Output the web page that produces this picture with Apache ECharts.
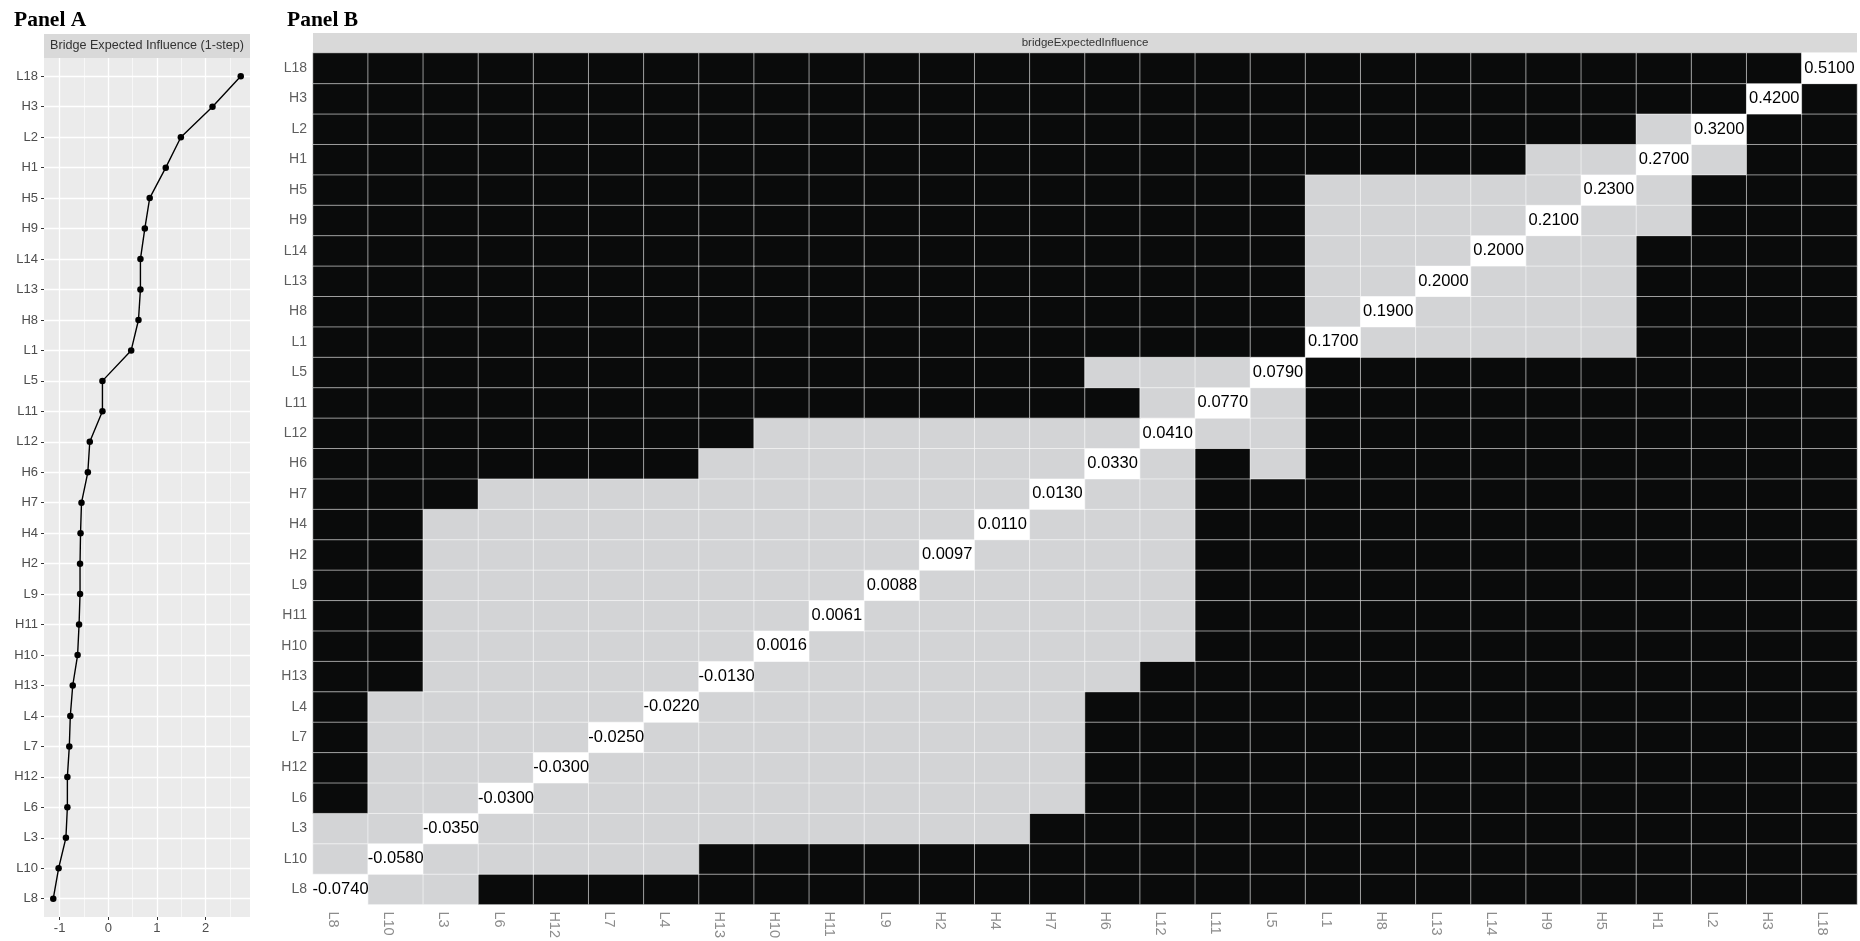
<!DOCTYPE html>
<html>
<head>
<meta charset="utf-8">
<title>Bridge Expected Influence</title>
<script src="https://cdn.jsdelivr.net/npm/echarts@6/dist/echarts.min.js"></script>
<style>
  html, body { margin: 0; padding: 0; background: #fff; }
  #main { width: 1860px; height: 941px; }
</style>
</head>
<body>
<div id="main"></div>
<script>
// nodes, bottom to top (same order on both heatmap axes)
const nodes = ['L8','L10','L3','L6','H12','L7','L4','H13','H10','H11','L9','H2','H4','H7',
  'H6','L12','L11','L5','L1','H8','L13','L14','H9','H5','H1','L2','H3','L18'];

// Panel A: standardized bridge expected influence (1-step)
const zScores = [-1.13,-1.02,-0.87,-0.84,-0.84,-0.80,-0.78,-0.73,-0.63,-0.60,-0.58,-0.58,-0.57,-0.55,
  -0.42,-0.38,-0.12,-0.12,0.47,0.62,0.66,0.66,0.75,0.85,1.18,1.49,2.14,2.72];

// Panel B: raw values on the diagonal
const bridgeEI = [-0.074,-0.058,-0.035,-0.030,-0.030,-0.025,-0.022,-0.013,0.0016,0.0061,0.0088,0.0097,0.011,0.013,
  0.033,0.041,0.077,0.079,0.17,0.19,0.20,0.20,0.21,0.23,0.27,0.32,0.42,0.51];

// difference test, one string per row (row 0 = L8), columns in nodes order
// 0 = significantly different (black), 1 = not different (grey), 2 = diagonal
const diffRows = [
  '2110000000000000000000000000',
  '1211111000000000000000000000',
  '1121111111111000000000000000',
  '0112111111111100000000000000',
  '0111211111111100000000000000',
  '0111121111111100000000000000',
  '0111112111111100000000000000',
  '0011111211111110000000000000',
  '0011111121111111000000000000',
  '0011111112111111000000000000',
  '0011111111211111000000000000',
  '0011111111121111000000000000',
  '0011111111112111000000000000',
  '0001111111111211000000000000',
  '0000000111111121010000000000',
  '0000000011111112110000000000',
  '0000000000000001210000000000',
  '0000000000000011120000000000',
  '0000000000000000002111110000',
  '0000000000000000001211110000',
  '0000000000000000001121110000',
  '0000000000000000001112110000',
  '0000000000000000001111211000',
  '0000000000000000001111121000',
  '0000000000000000000000112100',
  '0000000000000000000000001200',
  '0000000000000000000000000020',
  '0000000000000000000000000002'
];

const xMajor = [-1, 0, 1, 2];
const xMinor = [-0.5, 0.5, 1.5, 2.5];

const font = 'Liberation Sans, Arial, sans-serif';
const serif = 'Liberation Serif, Times New Roman, serif';
const idx = nodes.map((n, i) => i);

const heatData = [];
diffRows.forEach((row, r) => {
  for (let c = 0; c < row.length; c++) heatData.push([c, r, +row[c]]);
});

// vertical grid lines of panel A (ggplot major + minor)
const vLines = xMajor.map(v => ({ xAxis: v, lineStyle: { color: '#ffffff', type: 'solid', width: 1.3 } }))
  .concat(xMinor.map(v => ({ xAxis: v, lineStyle: { color: '#ffffff', type: 'solid', width: 0.6 } })));

const chart = echarts.init(document.getElementById('main'));

const option = {
  animation: false,
  backgroundColor: '#fff',
  textStyle: { fontFamily: font },
  title: [
    { text: 'Panel A', left: 14, top: 9, padding: 0,
      textStyle: { fontFamily: serif, fontWeight: 'bold', fontSize: 21.5, color: '#000' } },
    { text: 'Panel B', left: 287, top: 9, padding: 0,
      textStyle: { fontFamily: serif, fontWeight: 'bold', fontSize: 21.5, color: '#000' } }
  ],
  graphic: [
    { type: 'rect', shape: { x: 44, y: 34, width: 206, height: 24 }, style: { fill: '#d9d9d9' }, silent: true },
    { type: 'text', x: 147, y: 46, style: { text: 'Bridge Expected Influence (1-step)', fill: '#333', font: '12.6px ' + font,
      textAlign: 'center', textVerticalAlign: 'middle' }, silent: true },
    { type: 'rect', shape: { x: 313, y: 33, width: 1544, height: 20 }, style: { fill: '#d9d9d9' }, silent: true },
    { type: 'text', x: 1085, y: 43, style: { text: 'bridgeExpectedInfluence', fill: '#333', font: '11.5px ' + font,
      textAlign: 'center', textVerticalAlign: 'middle' }, silent: true }
  ],
  grid: [
    { left: 44, top: 58, width: 206, height: 859, show: true, backgroundColor: '#ebebeb', borderWidth: 0 },
    { left: 313, top: 53, width: 1544, height: 855, show: false }
  ],
  visualMap: {
    type: 'piecewise',
    show: false,
    seriesIndex: 1,
    dimension: 2,
    pieces: [
      { value: 0, color: '#0a0b0b' },
      { value: 1, color: '#d3d4d6' },
      { value: 2, color: '#ffffff' }
    ]
  },
  xAxis: [
    {
      type: 'value', gridIndex: 0, min: -1.32, max: 2.91,
      axisLine: { show: false, onZero: false },
      axisTick: { show: true, length: 3, customValues: xMajor, lineStyle: { color: '#333', width: 1 } },
      axisLabel: { customValues: xMajor, color: '#4d4d4d', fontSize: 13, margin: 5 },
      splitLine: { show: false }
    },
    {
      type: 'category', gridIndex: 1, data: nodes,
      axisLine: { show: false },
      axisTick: { show: false },
      axisLabel: { rotate: -90, verticalAlign: 'top', color: '#8c8c8c', fontSize: 14.5, margin: 7 },
      splitLine: { show: false }
    }
  ],
  yAxis: [
    {
      type: 'value', gridIndex: 0, min: -0.6, max: 27.6,
      axisLine: { show: false, onZero: false },
      axisTick: { show: true, length: 3, customValues: idx, lineStyle: { color: '#333', width: 1 } },
      axisLabel: { customValues: idx, formatter: v => nodes[Math.round(v)], color: '#4d4d4d', fontSize: 13, margin: 6 },
      splitLine: { show: true, lineStyle: { color: '#ffffff', width: 1.3 } }
    },
    {
      type: 'category', gridIndex: 1, data: nodes,
      axisLine: { show: false },
      axisTick: { show: false },
      axisLabel: { color: '#5e5e5e', fontSize: 14, margin: 6 },
      splitLine: { show: false }
    }
  ],
  series: [
    {
      type: 'line',
      xAxisIndex: 0,
      yAxisIndex: 0,
      z: 3,
      data: nodes.map((n, i) => [zScores[i], i]),
      symbol: 'circle',
      symbolSize: 6.5,
      itemStyle: { color: '#000' },
      lineStyle: { color: '#000', width: 1.4 },
      emphasis: { disabled: true },
      markLine: {
        z: 1,
        silent: true,
        symbol: 'none',
        label: { show: false },
        emphasis: { disabled: true },
        lineStyle: { color: '#ffffff', type: 'solid' },
        data: vLines
      }
    },
    {
      type: 'heatmap',
      xAxisIndex: 1,
      yAxisIndex: 1,
      data: heatData,
      itemStyle: { borderColor: 'rgba(255,255,255,0.55)', borderWidth: 1 },
      label: {
        show: true,
        color: '#000',
        fontSize: 16.5,
        fontFamily: font,
        formatter: p => p.value[2] === 2 ? bridgeEI[p.value[0]].toFixed(4) : ''
      },
      emphasis: { disabled: true }
    }
  ]
};

option && chart.setOption(option);
</script>
</body>
</html>
